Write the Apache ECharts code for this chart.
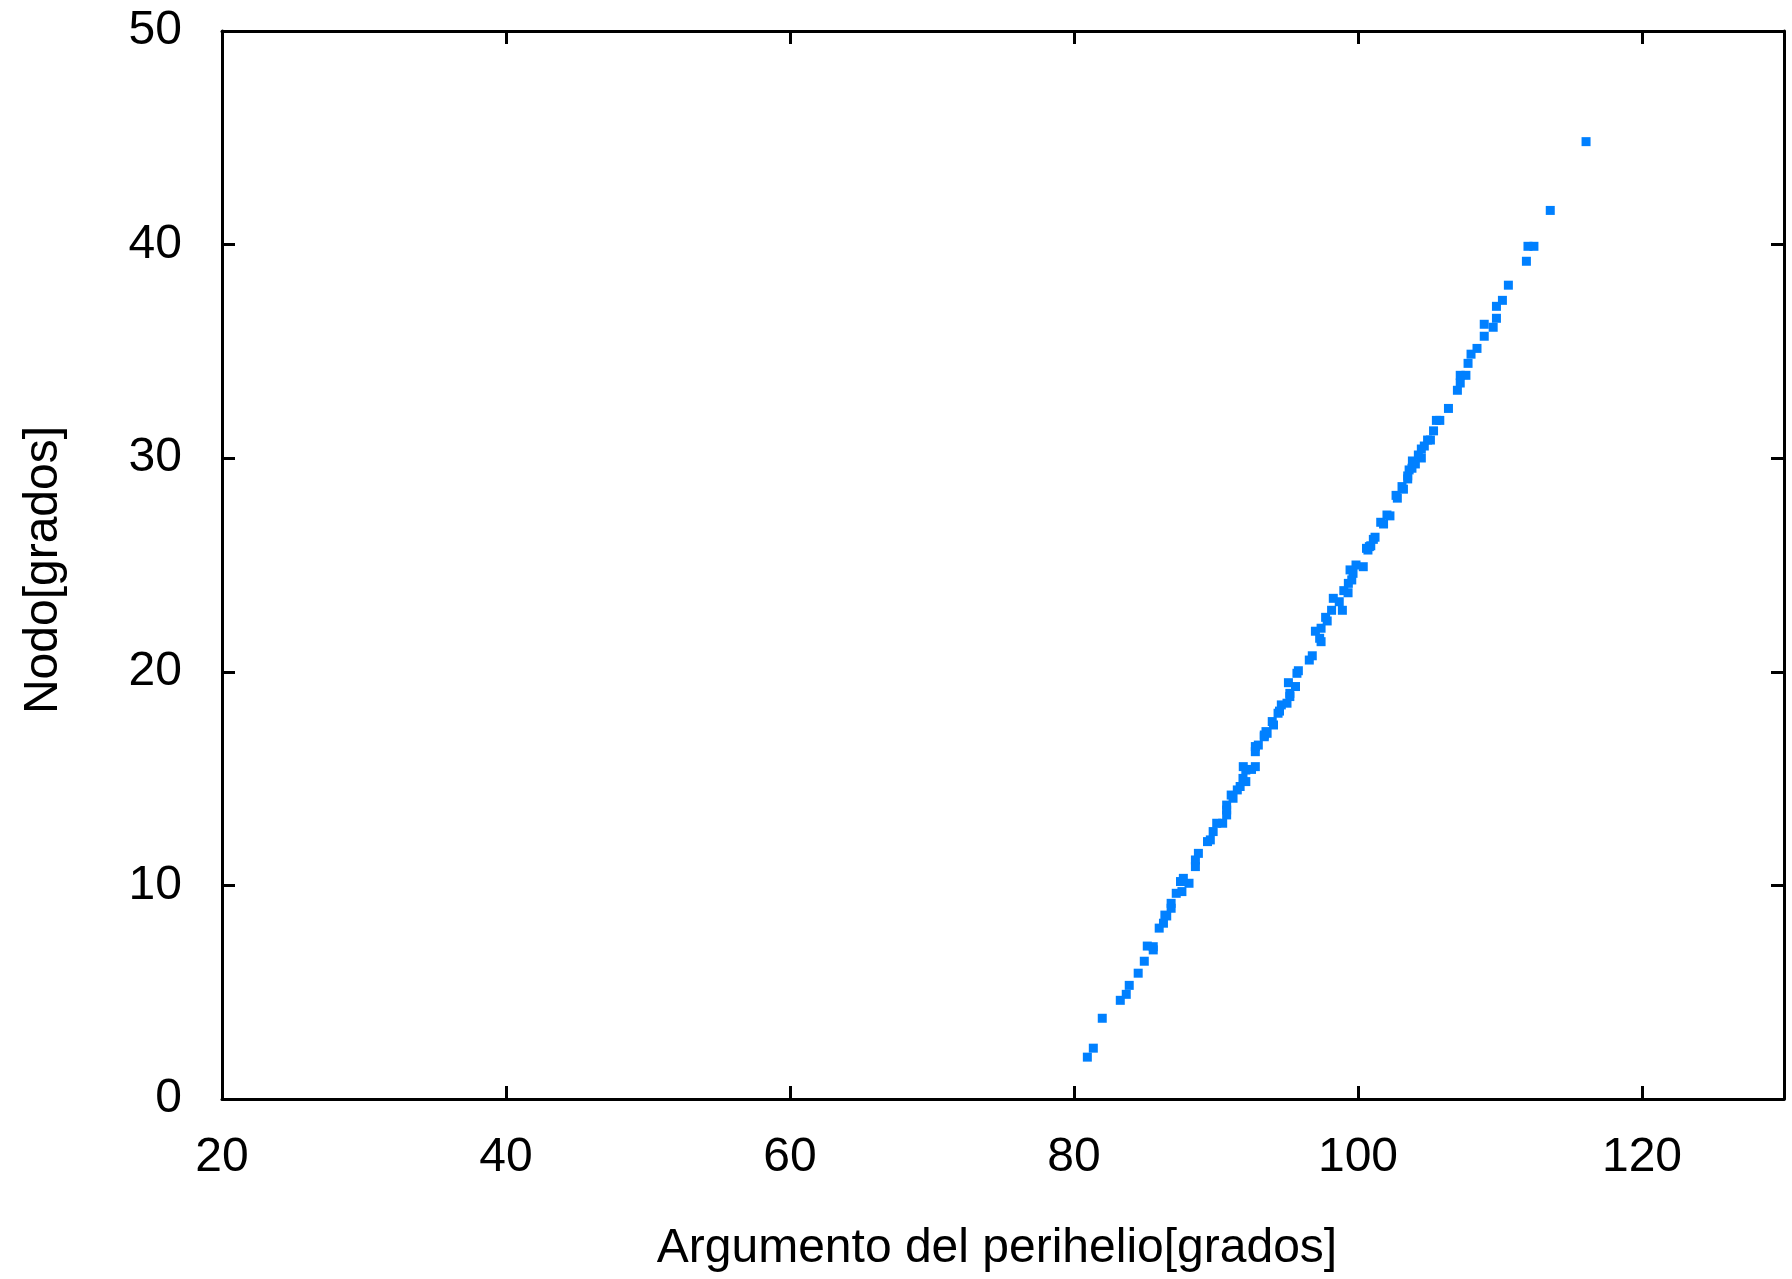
<!DOCTYPE html>
<html>
<head>
<meta charset="utf-8">
<title>Nodo vs Argumento del perihelio</title>
<script src="https://cdn.jsdelivr.net/npm/echarts@6/dist/echarts.min.js"></script>
<style>
  html, body { margin: 0; padding: 0; background: #ffffff; }
  #chart { width: 1792px; height: 1279px; }
</style>
</head>
<body>
<div id="chart"></div>
<script>
// Argument of perihelion (degrees) for each object
const perihelio = [
  116.06, 113.54, 111.97, 112.39, 111.86, 110.59, 110.17, 109.75, 109.75, 108.89,
  109.52, 108.89, 108.38, 107.96, 107.75, 107.2, 107.6, 107.2, 107.0, 106.37,
  105.52, 105.76, 105.32, 105.1, 104.9, 104.46, 104.67, 104.25, 104.46, 104.04,
  103.83, 103.6, 103.8, 103.5, 103.5, 103.1, 103.2, 102.68, 102.77, 102.04,
  102.25, 101.6, 101.8, 101.08, 101.2, 100.8, 100.6, 100.7, 100.9, 99.86,
  100.37, 99.65, 99.44, 99.56, 99.32, 99.0, 99.3, 98.26, 98.68, 98.14,
  98.9, 97.83, 97.72, 97.0, 97.4, 97.4, 97.3, 96.78, 96.57, 95.8,
  95.7, 95.1, 95.6, 95.2, 95.2, 95.0, 94.6, 94.47, 94.37, 94.05,
  93.96, 93.52, 93.4, 93.6, 93.4, 92.77, 92.98, 92.77, 91.92, 92.77,
  92.1, 92.5, 91.9, 92.1, 91.5, 91.7, 91.2, 91.07, 90.75, 90.75,
  90.75, 90.05, 90.47, 89.8, 89.4, 89.6, 88.76, 88.55, 88.55, 87.7,
  87.5, 88.1, 87.6, 87.2, 86.84, 86.84, 86.4, 86.53, 86.3, 86.0,
  85.16, 85.58, 85.58, 84.95, 84.52, 83.89, 83.68, 83.26, 81.99, 81.36,
  80.94
];

// Longitude of the node (degrees), same order
const nodo = [
  44.82, 41.6, 39.92, 39.92, 39.22, 38.1, 37.39, 37.11, 36.55, 36.27,
  36.13, 35.71, 35.14, 34.87, 34.44, 33.88, 33.88, 33.52, 33.18, 32.33,
  31.77, 31.77, 31.28, 30.85, 30.85, 30.43, 30.57, 30.15, 30.01, 29.73,
  29.87, 29.45, 29.53, 29.17, 29.03, 28.67, 28.55, 28.26, 28.13, 27.34,
  27.3, 27.0, 26.92, 26.2, 26.3, 25.86, 25.78, 25.7, 25.9, 25.0,
  24.92, 24.61, 24.77, 24.3, 24.14, 23.8, 23.7, 23.44, 23.28, 22.88,
  22.88, 22.38, 22.55, 21.9, 22.04, 21.41, 21.57, 20.75, 20.55, 20.05,
  19.93, 19.49, 19.31, 18.99, 18.84, 18.53, 18.45, 18.16, 18.06, 17.51,
  17.67, 17.2, 17.04, 17.12, 16.96, 16.5, 16.57, 16.26, 15.56, 15.56,
  15.4, 15.43, 15.01, 14.86, 14.47, 14.63, 14.08, 14.23, 13.76, 13.53,
  13.3, 12.91, 12.91, 12.52, 12.05, 12.13, 11.5, 11.19, 10.88, 10.33,
  10.18, 10.1, 9.71, 9.63, 9.16, 8.93, 8.61, 8.57, 8.23, 8.0,
  7.16, 7.13, 6.98, 6.45, 5.89, 5.32, 4.9, 4.62, 3.78, 2.38,
  1.96
];

// Axis ranges and tick steps
const xRange = [20, 130];
const xStep = 20;
const yRange = [0, 50];
const yStep = 10;

const xTitle = 'Argumento del perihelio[grados]';
const yTitle = 'Nodo[grados]';

const points = perihelio.map((v, i) => [v, nodo[i]]);

const FONT = 'Liberation Sans, Arial, sans-serif';
const lineStyle = { color: '#000000', width: 3 };
const tickStyle = { show: true, inside: true, length: 13, lineStyle: { color: '#000000', width: 3 } };
const labelText = { color: '#000000', fontFamily: FONT, fontSize: 48 };

const chart = echarts.init(document.getElementById('chart'), null, { renderer: 'canvas' });

chart.setOption({
  backgroundColor: '#ffffff',
  animation: false,
  grid: { left: 222, right: 8, top: 31, bottom: 180, containLabel: false },
  xAxis: [
    {
      type: 'value', position: 'bottom',
      min: xRange[0], max: xRange[1], interval: xStep,
      name: xTitle, nameLocation: 'middle', nameGap: 126,
      nameTextStyle: { color: '#000000', fontFamily: FONT, fontSize: 48, padding: [0, 12, 0, 0] },
      axisLine: { show: true, onZero: false, lineStyle },
      axisTick: tickStyle,
      axisLabel: Object.assign({ margin: 35, showMaxLabel: false }, labelText),
      splitLine: { show: false }
    },
    {
      type: 'value', position: 'top',
      min: xRange[0], max: xRange[1], interval: xStep,
      axisLine: { show: true, onZero: false, lineStyle },
      axisTick: tickStyle,
      axisLabel: { show: false },
      splitLine: { show: false }
    }
  ],
  yAxis: [
    {
      type: 'value', position: 'left',
      min: yRange[0], max: yRange[1], interval: yStep,
      name: yTitle, nameLocation: 'middle', nameGap: 154, nameRotate: 90,
      nameTextStyle: { color: '#000000', fontFamily: FONT, fontSize: 48, padding: [0, 10, 0, 0] },
      axisLine: { show: true, onZero: false, lineStyle },
      axisTick: tickStyle,
      axisLabel: Object.assign({ margin: 40 }, labelText),
      splitLine: { show: false }
    },
    {
      type: 'value', position: 'right',
      min: yRange[0], max: yRange[1], interval: yStep,
      axisLine: { show: true, onZero: false, lineStyle },
      axisTick: tickStyle,
      axisLabel: { show: false },
      splitLine: { show: false }
    }
  ],
  series: [
    {
      type: 'scatter',
      xAxisIndex: 0,
      yAxisIndex: 0,
      symbol: 'rect',
      symbolSize: 9,
      itemStyle: { color: '#0080ff', opacity: 1 },
      data: points
    }
  ]
});
</script>
</body>
</html>
